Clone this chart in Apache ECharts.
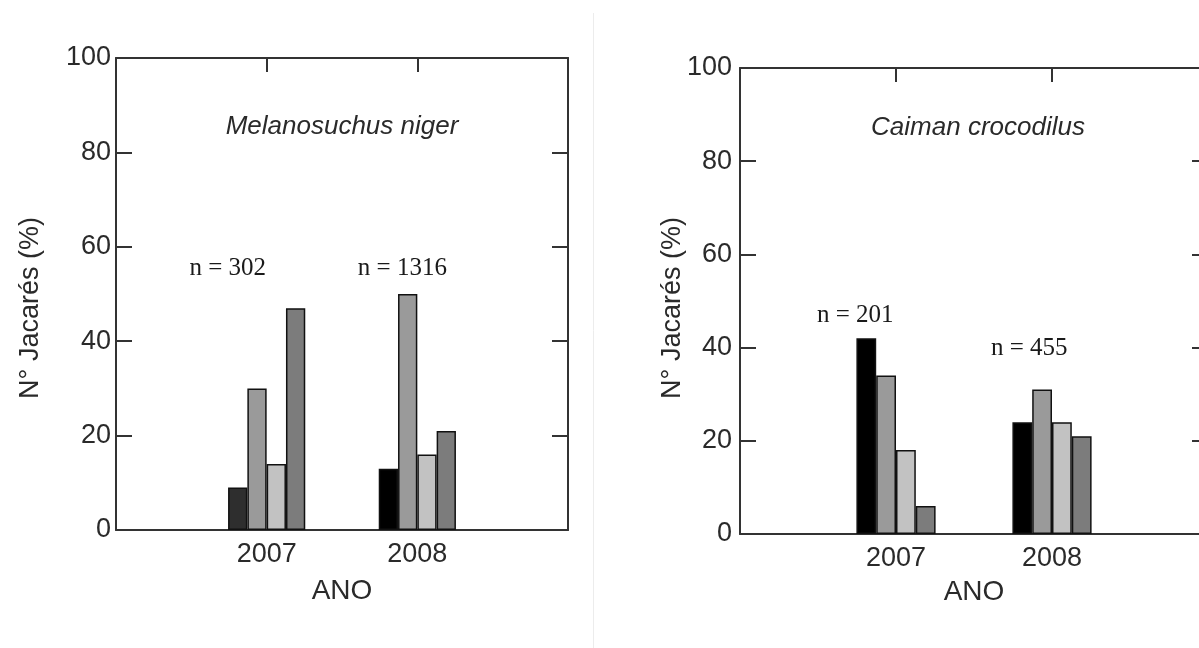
<!DOCTYPE html>
<html>
<head>
<meta charset="utf-8">
<script src="https://cdn.jsdelivr.net/npm/echarts@6/dist/echarts.min.js"></script>
<style>
html,body{margin:0;padding:0;background:#fff;}
#chart{width:1199px;height:648px;}
</style>
</head>
<body>
<div id="chart"></div>
<script>
// ---- data ----
const xCats = ['', '2007', '2008', ''];
const years = ['2007', '2008'];
// Melanosuchus niger (left)
const leftS1 = [9, 13];
const leftS2 = [30, 50];
const leftS3 = [14, 16];
const leftS4 = [47, 21];
const leftN = ['n = 302', 'n = 1316'];
const leftNLevel = [55.4, 55.4];
// Caiman crocodilus (right)
const rightS1 = [42, 24];
const rightS2 = [34, 31];
const rightS3 = [18, 24];
const rightS4 = [6, 21];
const rightN = ['n = 201', 'n = 455'];
const rightNLevel = [47.0, 39.9];
const yMin = 0, yMax = 100, yStep = 20;
const titles = ['Melanosuchus niger', 'Caiman crocodilus'];
const yTitle = 'N° Jacarés (%)';
const xTitle = 'ANO';

// ---- styles / layout ----
const SANS = '"Liberation Sans", Arial, sans-serif';
const SERIF = '"Liberation Serif", "Times New Roman", serif';
const TXT = '#2a2a2a';
const AX = '#333';
const barColors = ['#000000', '#9a9a9a', '#c2c2c2', '#7c7c7c'];

const grids = [
  {left: 116, top: 58, width: 452, height: 472},
  {left: 740, top: 68, width: 468, height: 466}
];
const nameGaps = [47, 44];
const yLabelMargins = [5, 8];
const barWidths = [19.3, 19.8];
const nOffsets = [[-10, 0], [14, 0], [-11, 0], [7, 0]];

const chart = echarts.init(document.getElementById('chart'), null, {renderer: 'canvas'});

const lineStyle = {color: AX, width: 2};
const xAxes = [], yAxes = [], series = [];
[0, 1].forEach(g => {
  xAxes.push({
    type: 'category', gridIndex: g, data: xCats, boundaryGap: false, position: 'bottom',
    axisLine: {show: true, onZero: false, lineStyle: lineStyle},
    axisTick: {show: false},
    axisLabel: {color: TXT, fontSize: 27, fontFamily: SANS, margin: 11, interval: 0},
    splitLine: {show: false},
    name: xTitle, nameLocation: 'middle', nameGap: nameGaps[g],
    nameTextStyle: {color: TXT, fontSize: 28, fontFamily: SANS}
  });
  xAxes.push({
    type: 'category', gridIndex: g, data: xCats, boundaryGap: false, position: 'top',
    axisLine: {show: true, onZero: false, lineStyle: lineStyle},
    axisTick: {show: true, inside: true, length: 14, lineStyle: lineStyle, interval: 0},
    axisLabel: {show: false}, splitLine: {show: false}
  });
  yAxes.push({
    type: 'value', gridIndex: g, min: yMin, max: yMax, interval: yStep, position: 'left',
    axisLine: {show: true, onZero: false, lineStyle: lineStyle},
    axisTick: {show: true, inside: true, length: 16, lineStyle: lineStyle},
    axisLabel: {color: TXT, fontSize: 27, fontFamily: SANS, margin: yLabelMargins[g]},
    splitLine: {show: false}
  });
  yAxes.push({
    type: 'value', gridIndex: g, min: yMin, max: yMax, interval: yStep, position: 'right',
    axisLine: {show: true, onZero: false, lineStyle: lineStyle},
    axisTick: {show: true, inside: true, length: 16, lineStyle: lineStyle},
    axisLabel: {show: false}, splitLine: {show: false}
  });
});

function addChart(g, sets, nTexts, nLevels) {
  sets.forEach((vals, s) => {
    const data = ['-'].concat(vals.map((v, i) => {
      if (g === 0 && s === 0 && i === 0) return {value: v, itemStyle: {color: '#2e2e2e'}};
      return v;
    })).concat(['-']);
    const ser = {
      type: 'bar', xAxisIndex: g * 2, yAxisIndex: g * 2, data: data,
      barWidth: barWidths[g], barGap: '0%',
      itemStyle: {color: barColors[s], borderColor: '#111', borderWidth: 1.5},
      emphasis: {disabled: true}, animation: false, silent: true
    };
    if (s === 0) {
      ser.markPoint = {
        symbol: 'circle', symbolSize: 0, silent: true, animation: false,
        label: {show: true, position: 'inside', formatter: '{b}', color: '#1a1a1a',
                fontSize: 25, fontFamily: SERIF},
        data: years.map((yr, i) => ({
          name: nTexts[i], coord: [yr, nLevels[i]],
          label: {offset: nOffsets[g * 2 + i]}
        }))
      };
    }
    series.push(ser);
  });
}
addChart(0, [leftS1, leftS2, leftS3, leftS4], leftN, leftNLevel);
addChart(1, [rightS1, rightS2, rightS3, rightS4], rightN, rightNLevel);

const titlePos = [[342, 127], [978, 128]];
const yTitlePos = [[31, 308], [673, 308]];
const graphic = [
  {type: 'line', shape: {x1: 593.5, y1: 13, x2: 593.5, y2: 648}, style: {stroke: '#ececec', lineWidth: 1}, silent: true}
];
[0, 1].forEach(g => {
  graphic.push({type: 'text', x: titlePos[g][0], y: titlePos[g][1], silent: true,
    style: {text: titles[g], fill: TXT, font: 'italic 26px ' + SANS, textAlign: 'center', textVerticalAlign: 'middle'}});
  graphic.push({type: 'text', x: yTitlePos[g][0], y: yTitlePos[g][1], rotation: Math.PI / 2, silent: true,
    style: {text: yTitle, fill: TXT, font: '27px ' + SANS, textAlign: 'center', textVerticalAlign: 'middle'}});
});

chart.setOption({
  backgroundColor: '#ffffff',
  animation: false,
  grid: grids.map(gr => Object.assign({containLabel: false, outerBoundsMode: 'none'}, gr)),
  xAxis: xAxes,
  yAxis: yAxes,
  series: series,
  graphic: graphic
});
</script>
</body>
</html>
